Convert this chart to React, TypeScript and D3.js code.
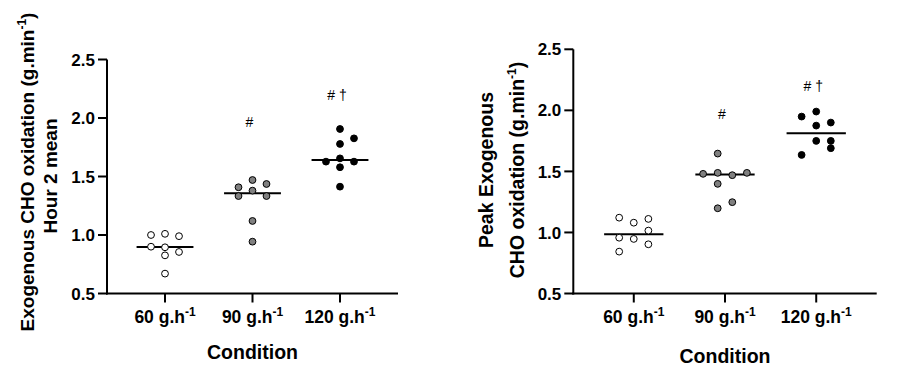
import React from "react";
import * as d3 from "d3";

// ---------- data ----------
const conditions = ["60", "90", "120"];
const yTickValues = [0.5, 1.0, 1.5, 2.0, 2.5];
const groupFills = ["#ffffff", "#808080", "#000000"];
const annotations = ["", "#", "# \u2020"];
const annotationLevels = [0, 1.97, 2.2];

// Left panel: exogenous CHO oxidation, hour 2 mean
const hour2_60 = [1.0, 1.01, 0.99, 0.9, 0.895, 0.855, 0.826, 0.67];
const hour2_60_cols = [-1, 0, 1, -1, 0, 1, 0, 0];
const hour2_90 = [1.408, 1.47, 1.436, 1.333, 1.379, 1.333, 1.12, 0.943];
const hour2_90_cols = [-1, 0, 1, -1, 0, 1, 0, 0];
const hour2_120 = [1.906, 1.826, 1.778, 1.627, 1.655, 1.627, 1.579, 1.413];
const hour2_120_cols = [0, 1, 0, -1, 0, 1, 0, 0];

// Right panel: peak exogenous CHO oxidation
const peak_60 = [1.121, 1.08, 1.111, 1.015, 0.957, 0.947, 0.903, 0.843];
const peak_60_cols = [-1, 0, 1, 1, -1, 0, 1, -1];
const peak_90 = [1.48, 1.646, 1.488, 1.398, 1.198, 1.469, 1.248, 1.488];
const peak_90_cols = [-1.5, -0.5, -0.5, -0.5, -0.5, 0.5, 0.5, 1.5];
const peak_120 = [1.99, 1.949, 1.9, 1.875, 1.75, 1.75, 1.69, 1.635];
const peak_120_cols = [0, -1, 1, 0, 0, 1, 1, -1];

const FONT = "'Liberation Sans', Arial, Helvetica, sans-serif";

type PanelProps = {
  left: number;
  right: number;
  top: number;
  bottom: number;
  groups: number[][];
  cols: number[][];
  titleLines: { text: string; sup?: boolean; tail?: string }[];
  titleXs: number[];
  titleYs: number[];
  titleSize: number;
  condBaseline: number;
};

function Panel(p: PanelProps) {
  const x = d3.scalePoint<string>().domain(conditions).range([p.left, p.right]).padding(0.663);
  const y = d3.scaleLinear().domain([0.5, 2.5]).range([p.bottom, p.top]);
  const step = x.step();
  const colGap = step * 0.16;
  const medW = step * 0.65;
  const fmt = d3.format(".1f");
  const tickLen = 9;

  return (
    <g fontFamily={FONT}>
      {/* y axis */}
      <line x1={p.left} x2={p.left} y1={y(2.5)} y2={y(0.5) + 1} stroke="#000" strokeWidth={2} />
      {yTickValues.map((v) => (
        <g key={v}>
          <line x1={p.left - tickLen} x2={p.left} y1={y(v)} y2={y(v)} stroke="#000" strokeWidth={2} />
          <text x={p.left - tickLen - 3} y={y(v)} dy="0.36em" textAnchor="end" fontSize={17} fontWeight="bold">
            {fmt(v)}
          </text>
        </g>
      ))}
      {/* x axis */}
      <line x1={p.left - 1} x2={p.right} y1={y(0.5)} y2={y(0.5)} stroke="#000" strokeWidth={2} />
      {conditions.map((c) => (
        <g key={c}>
          <line x1={x(c)!} x2={x(c)!} y1={y(0.5)} y2={y(0.5) + 9} stroke="#000" strokeWidth={2} />
          <text x={x(c)!} y={p.bottom + 29} textAnchor="middle" fontSize={17.5} fontWeight="bold">
            {c} g.h<tspan fontSize={12} dy={-7}>-1</tspan>
          </text>
        </g>
      ))}
      <text x={(p.left + p.right) / 2} y={p.condBaseline} textAnchor="middle" fontSize={19.5} fontWeight="bold">
        Condition
      </text>
      {/* y title */}
      {p.titleLines.map((t, i) => (
        <text
          key={i}
          transform={`translate(${p.titleXs[i]},${p.titleYs[i]}) rotate(-90)`}
          textAnchor="middle"
          fontSize={p.titleSize}
          fontWeight="bold"
        >
          {t.text}
          {t.sup ? (
            <>
              <tspan fontSize={12} dy={-8}>-1</tspan>
              <tspan dy={8}>{t.tail}</tspan>
            </>
          ) : null}
        </text>
      ))}
      {/* groups */}
      {conditions.map((c, gi) => {
        const vals = p.groups[gi];
        const med = d3.median(vals)!;
        const cx = x(c)!;
        return (
          <g key={c}>
            <line x1={cx - medW / 2} x2={cx + medW / 2} y1={y(med)} y2={y(med)} stroke="#000" strokeWidth={2} />
            {vals.map((v, i) => (
              <circle
                key={i}
                cx={cx + p.cols[gi][i] * colGap}
                cy={y(v)}
                r={3.4}
                fill={groupFills[gi]}
                stroke="#000"
                strokeWidth={1}
              />
            ))}
            {annotations[gi] ? (
              <text x={cx - 3} y={y(annotationLevels[gi])} dy="0.36em" textAnchor="middle" fontSize={14} fill="#000">
                {annotations[gi]}
              </text>
            ) : null}
          </g>
        );
      })}
    </g>
  );
}

export default function App() {
  return (
    <svg
      width={898}
      height={385}
      style={{ position: "absolute", left: 0, top: 0, background: "#fff" }}
    >
      <rect width={898} height={385} fill="#fff" />
      <Panel
        left={107}
        right={398}
        top={59.5}
        bottom={293.5}
        groups={[hour2_60, hour2_90, hour2_120]}
        cols={[hour2_60_cols, hour2_90_cols, hour2_120_cols]}
        titleLines={[
          { text: "Exogenous CHO oxidation (g.min", sup: true, tail: ")" },
          { text: "Hour 2 mean" },
        ]}
        titleXs={[34, 57]}
        titleYs={[172, 176]}
        titleSize={19}
        condBaseline={359}
      />
      <Panel
        left={573.3}
        right={876.7}
        top={49.3}
        bottom={293.5}
        groups={[peak_60, peak_90, peak_120]}
        cols={[peak_60_cols, peak_90_cols, peak_120_cols]}
        titleLines={[
          { text: "Peak Exogenous" },
          { text: "CHO oxidation (g.min", sup: true, tail: ")" },
        ]}
        titleXs={[493, 524]}
        titleYs={[170, 170]}
        titleSize={19.5}
        condBaseline={362.5}
      />
    </svg>
  );
}
